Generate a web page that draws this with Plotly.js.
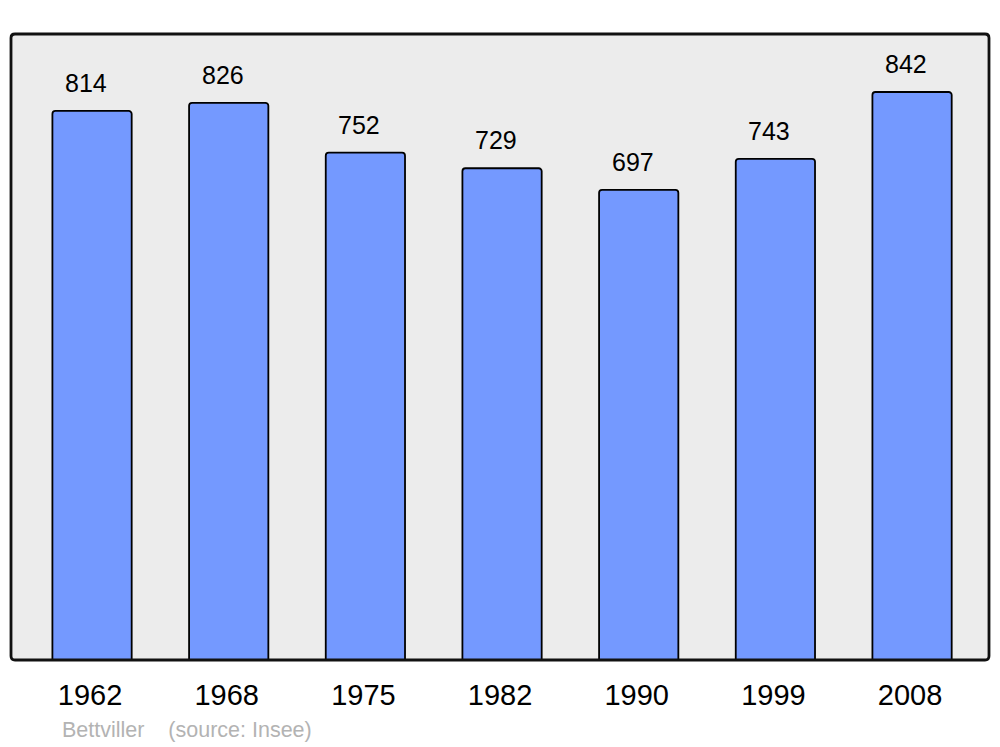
<!DOCTYPE html>
<html>
<head>
<meta charset="utf-8">
<script src="https://cdn.plot.ly/plotly-3.0.1.min.js"></script>
<style>html,body{margin:0;padding:0;background:#fff;}#chart{width:1000px;height:747px;}</style>
</head>
<body>
<div id="chart"></div>
<script>
const years = ["1962", "1968", "1975", "1982", "1990", "1999", "2008"];
const population = [814, 826, 752, 729, 697, 743, 842];
const sourceText = "Bettviller    (source: Insee)";

const trace = {
  type: "bar",
  x: years,
  y: population,
  width: 0.58,
  marker: {color: "#7499ff", line: {color: "#000", width: 1.8}, cornerradius: 3},
  hoverinfo: "x+y"
};

const annotations = years.map((yr, i) => ({
  x: i, y: population[i], xref: "x", yref: "y",
  text: String(population[i]), showarrow: false,
  yanchor: "bottom", yshift: 12, xshift: -6,
  font: {family: "Liberation Sans, Arial, sans-serif", size: 25, color: "#000"}
}));
annotations.push({
  x: 49/978, y: (660-730)/626, xref: "paper", yref: "paper",
  xanchor: "left", yanchor: "middle", showarrow: false,
  text: sourceText,
  font: {family: "Liberation Sans, Arial, sans-serif", size: 21.5, color: "#b3b3b3"}
});

// rounded frame in paper coordinates
const rx = 4/978, ry = 4/626;
const framePath = `M ${rx},0 L ${1-rx},0 Q 1,0 1,${ry} L 1,${1-ry} Q 1,1 ${1-rx},1 L ${rx},1 Q 0,1 0,${1-ry} L 0,${ry} Q 0,0 ${rx},0 Z`;

const layout = {
  width: 1000, height: 747,
  margin: {l: 11, r: 11, t: 34, b: 87},
  paper_bgcolor: "#ffffff",
  plot_bgcolor: "#ececec",
  showlegend: false,
  xaxis: {
    type: "category", range: [-0.593, 6.563],
    showgrid: false, zeroline: false, showline: false,
    ticks: "outside", ticklen: 9, tickcolor: "rgba(0,0,0,0)",
    ticklabelshift: -2,
    tickfont: {family: "Liberation Sans, Arial, sans-serif", size: 29, color: "#000"},
    fixedrange: true
  },
  yaxis: {
    range: [0, 928], showgrid: false, zeroline: false, showline: false,
    showticklabels: false, ticks: "", fixedrange: true
  },
  annotations: annotations,
  shapes: [{
    type: "path", xref: "paper", yref: "paper", path: framePath,
    line: {color: "#111", width: 2.8}, fillcolor: "rgba(0,0,0,0)", layer: "above"
  }]
};

Plotly.newPlot("chart", [trace], layout, {displayModeBar: false, staticPlot: true});
</script>
</body>
</html>
